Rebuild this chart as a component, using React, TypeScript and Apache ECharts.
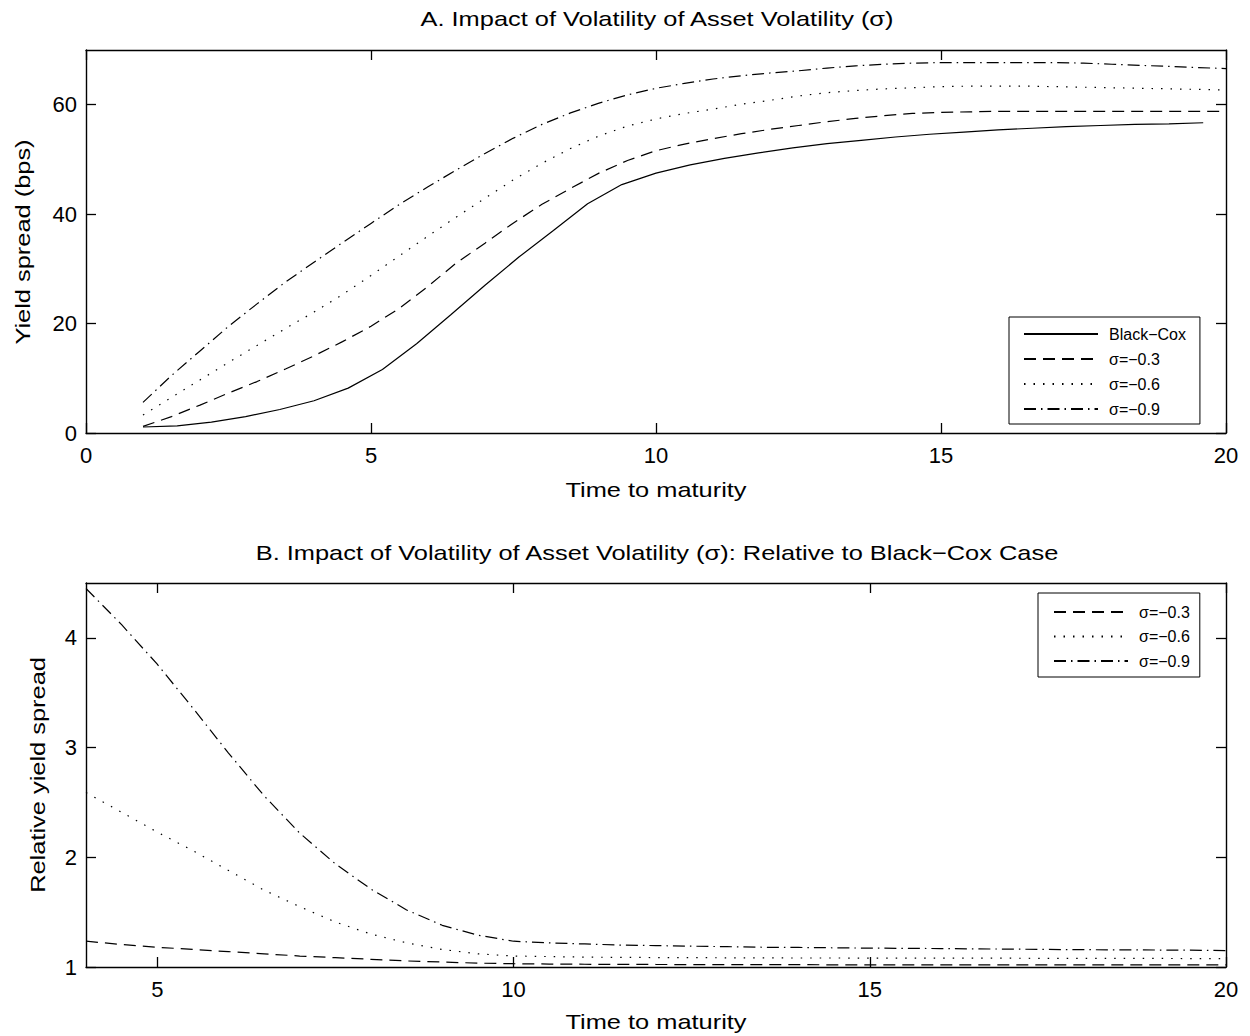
import React, { useEffect, useRef } from "react";
import * as echarts from "echarts";

// ---- Panel A data ----
const BC_X = [1, 1.6, 2.2, 2.8, 3.4, 4, 4.6, 5.2, 5.8, 6.4, 7, 7.6, 8.2, 8.8, 9.4, 10, 10.6, 11.2, 11.8, 12.4, 13, 13.6, 14.2, 14.8, 15.4, 16, 16.6, 17.2, 17.8, 18.4, 19, 19.6];
const BC_Y = [1.1, 1.3, 2.0, 3.0, 4.3, 5.9, 8.2, 11.6, 16.3, 21.6, 27.0, 32.2, 37.0, 41.9, 45.4, 47.5, 49.0, 50.2, 51.2, 52.1, 52.9, 53.5, 54.1, 54.6, 55.0, 55.4, 55.7, 56.0, 56.2, 56.4, 56.5, 56.7];

const TOP_X = [1, 1.5, 2, 2.5, 3, 3.5, 4, 4.5, 5, 5.5, 6, 6.5, 7, 7.5, 8, 8.5, 9, 9.5, 10, 10.5, 11, 11.5, 12, 12.5, 13, 13.5, 14, 14.5, 15, 15.5, 16, 16.5, 17, 17.5, 18, 18.5, 19, 19.5, 20];
const S03_TOP = [1.2, 3.0, 5.1, 7.3, 9.4, 11.7, 14.1, 16.7, 19.5, 22.8, 26.8, 31.1, 34.7, 38.4, 41.8, 44.7, 47.5, 49.8, 51.6, 52.8, 53.8, 54.7, 55.5, 56.2, 56.9, 57.5, 58.0, 58.4, 58.6, 58.7, 58.8, 58.8, 58.8, 58.8, 58.8, 58.8, 58.8, 58.8, 58.8];
const S06_TOP = [3.3, 6.5, 9.7, 12.9, 16.0, 19.1, 22.1, 25.3, 28.8, 32.4, 36.0, 39.5, 42.9, 46.3, 49.3, 52.0, 54.3, 56.1, 57.4, 58.4, 59.2, 60.1, 60.8, 61.6, 62.2, 62.6, 62.9, 63.1, 63.3, 63.4, 63.4, 63.4, 63.3, 63.2, 63.1, 63.0, 62.9, 62.8, 62.7];
const S09_TOP = [5.6, 10.5, 15.0, 19.5, 23.6, 27.6, 31.2, 34.8, 38.3, 41.8, 45.0, 48.1, 51.1, 53.9, 56.4, 58.5, 60.3, 61.8, 63.0, 63.9, 64.7, 65.3, 65.8, 66.2, 66.7, 67.1, 67.4, 67.6, 67.7, 67.7, 67.7, 67.7, 67.7, 67.6, 67.4, 67.2, 67.0, 66.8, 66.6];

// ---- Panel B data ----
const BOT_X = [4, 4.5, 5, 5.5, 6, 6.5, 7, 7.5, 8, 8.5, 9, 9.5, 10, 10.5, 11, 11.5, 12, 12.5, 13, 13.5, 14, 14.5, 15, 15.5, 16, 16.5, 17, 17.5, 18, 18.5, 19, 19.5, 20];
const R03 = [1.235, 1.205, 1.18, 1.16, 1.14, 1.12, 1.10, 1.085, 1.07, 1.055, 1.045, 1.035, 1.03, 1.027, 1.025, 1.024, 1.023, 1.022, 1.022, 1.021, 1.021, 1.02, 1.02, 1.02, 1.02, 1.02, 1.02, 1.02, 1.02, 1.02, 1.02, 1.02, 1.02];
const R06 = [2.59, 2.41, 2.23, 2.06, 1.88, 1.70, 1.55, 1.41, 1.30, 1.22, 1.16, 1.12, 1.10, 1.095, 1.09, 1.088, 1.086, 1.085, 1.084, 1.083, 1.082, 1.082, 1.081, 1.081, 1.08, 1.08, 1.08, 1.079, 1.079, 1.078, 1.078, 1.077, 1.077];
const R09 = [4.45, 4.12, 3.76, 3.36, 2.95, 2.56, 2.22, 1.94, 1.71, 1.52, 1.38, 1.29, 1.235, 1.22, 1.21, 1.2, 1.195, 1.19, 1.185, 1.18, 1.178, 1.175, 1.172, 1.17, 1.168, 1.165, 1.163, 1.16, 1.158, 1.156, 1.155, 1.153, 1.15];

// ---- Labels ----
const NAME_BC = "Black\u2212Cox";
const NAME_03 = "\u03c3=\u22120.3";
const NAME_06 = "\u03c3=\u22120.6";
const NAME_09 = "\u03c3=\u22120.9";
const TITLE_A = "A. Impact of Volatility of Asset Volatility (\u03c3)";
const TITLE_B = "B. Impact of Volatility of Asset Volatility (\u03c3): Relative to Black\u2212Cox Case";
const X_NAME = "Time to maturity";
const Y_NAME_A = "Yield spread (bps)";
const Y_NAME_B = "Relative yield spread";
const TICKS_AX = [0, 5, 10, 15, 20];
const TICKS_AY = [0, 20, 40, 60];
const TICKS_BX = [5, 10, 15, 20];
const TICKS_BY = [1, 2, 3, 4];

const FONT = "'Liberation Sans', Arial, Helvetica, sans-serif";
const SX = 1.21;

const pairs = (xs: number[], ys: number[]) => xs.map((x, i) => [x, ys[i]]);

const STYLE: Record<string, any> = {
  [NAME_BC]: "solid",
  [NAME_03]: [12, 7],
  [NAME_06]: [1.5, 8],
  [NAME_09]: [12, 5, 1.5, 5],
};

function lineSeries(name: string, data: number[][], idx: number) {
  return {
    type: "line",
    name,
    data,
    xAxisIndex: idx * 2,
    yAxisIndex: idx * 2,
    showSymbol: false,
    symbol: "none",
    clip: true,
    lineStyle: { color: "#000", width: 1.2, type: STYLE[name] },
    itemStyle: { color: "#000" },
  };
}

function axisPair(grid: number, kind: "x" | "y", min: number, max: number, ticks: number[]) {
  const base = {
    gridIndex: grid,
    type: "value",
    min,
    max,
    splitLine: { show: false },
    axisLine: { show: true, onZero: false, lineStyle: { color: "#000", width: 1.4 } },
    axisTick: { show: true, inside: true, length: 10, customValues: ticks, lineStyle: { color: "#000", width: 1.3 } },
  };
  const main = {
    ...base,
    position: kind === "x" ? "bottom" : "left",
    axisLabel: {
      show: true,
      customValues: ticks,
      color: "#000",
      fontSize: 22,
      fontFamily: FONT,
      margin: kind === "x" ? 11 : 9,
    },
  };
  const other = {
    ...base,
    position: kind === "x" ? "top" : "right",
    axisLabel: { show: false },
  };
  return [main, other];
}

function text(t: string, x: number, y: number, rot = 0) {
  return {
    type: "text",
    x,
    y,
    rotation: rot,
    scaleX: SX,
    scaleY: 1,
    style: {
      text: t,
      fill: "#000",
      fontSize: 21,
      fontFamily: FONT,
      align: "center",
      verticalAlign: "middle",
    },
  };
}

function legend(data: string[], left: number, top: number, pad: number[], textW: number, gap: number) {
  return {
    orient: "vertical",
    left,
    top,
    data,
    selectedMode: false,
    itemWidth: 74,
    itemHeight: 16,
    itemGap: gap,
    padding: pad,
    backgroundColor: "#fff",
    borderColor: "#000",
    borderWidth: 1,
    borderRadius: 0,
    itemStyle: { opacity: 0, borderWidth: 0 },
    textStyle: { color: "#000", fontSize: 16, fontFamily: FONT, width: textW, padding: [0, 0, 0, 6] },
  };
}

export default function App() {
  const ref = useRef<HTMLDivElement>(null);
  useEffect(() => {
    document.body.style.margin = "0";
    if (!ref.current) return;
    const chart = echarts.init(ref.current, null, { renderer: "svg" });
    const [xa, xa2] = axisPair(0, "x", 0, 20, TICKS_AX);
    const [ya, ya2] = axisPair(0, "y", 0, 70, TICKS_AY);
    const [xb, xb2] = axisPair(1, "x", 4, 20, TICKS_BX);
    const [yb, yb2] = axisPair(1, "y", 1, 4.5, TICKS_BY);
    chart.setOption({
      animation: false,
      backgroundColor: "#fff",
      grid: [
        { left: 86, right: 24, top: 50, height: 383, show: false },
        { left: 86, right: 24, top: 583, height: 384, show: false },
      ],
      xAxis: [xa, xa2, xb, xb2],
      yAxis: [ya, ya2, yb, yb2],
      legend: [
        legend([NAME_BC, NAME_03, NAME_06, NAME_09], 1009, 317, [9, 14, 7, 14], 80, 9),
        legend([NAME_03, NAME_06, NAME_09], 1038, 593, [11, 10, 8, 15], 52, 8.5),
      ],
      series: [
        lineSeries(NAME_BC, pairs(BC_X, BC_Y), 0),
        lineSeries(NAME_03, pairs(TOP_X, S03_TOP), 0),
        lineSeries(NAME_06, pairs(TOP_X, S06_TOP), 0),
        lineSeries(NAME_09, pairs(TOP_X, S09_TOP), 0),
        lineSeries(NAME_03, pairs(BOT_X, R03), 1),
        lineSeries(NAME_06, pairs(BOT_X, R06), 1),
        lineSeries(NAME_09, pairs(BOT_X, R09), 1),
      ],
      graphic: [
        text(TITLE_A, 657, 19),
        text(X_NAME, 656, 490),
        text(Y_NAME_A, 23, 242, Math.PI / 2),
        text(TITLE_B, 657, 553),
        text(X_NAME, 656, 1022),
        text(Y_NAME_B, 38, 775, Math.PI / 2),
      ],
    });
    return () => chart.dispose();
  }, []);
  return <div ref={ref} style={{ width: 1250, height: 1036 }} />;
}
